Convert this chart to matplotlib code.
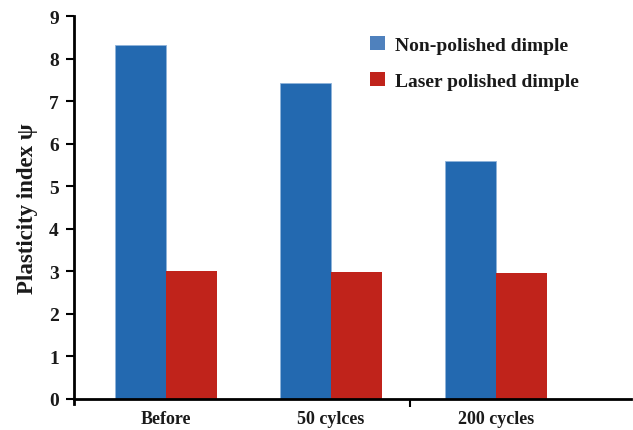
#!/usr/bin/env python3
import numpy as np
import matplotlib

matplotlib.use("Agg")
import matplotlib.pyplot as plt
from matplotlib.patches import Patch

# values
stages = ["Before", "50 cylces", "200 cycles"]
non_polished = [8.33, 7.44, 5.59]
laser_polished = [3.0, 2.98, 2.96]

BLUE = "#2369b0"
RED = "#c0231b"
LEG_BLUE = "#4f81bd"

plt.rcParams["font.family"] = ["Liberation Serif", "DejaVu Serif"]
plt.rcParams["font.weight"] = "bold"

fig = plt.figure(figsize=(6.33, 4.31), dpi=100)
ax = fig.add_axes([0.117, 0.072, 0.88, 0.888])

x = np.arange(len(stages))
w = 0.31
ax.bar(x - w / 2, non_polished, w, color=BLUE, edgecolor="#8fb3da", linewidth=0.6)
ax.bar(x + w / 2, laser_polished, w, color=RED, linewidth=0)

ax.set_xlim(-0.56, 2.82)
ax.set_ylim(0, 9)
ax.set_yticks(range(10))
ax.set_xticks([1.48])
ax.set_xticklabels([""])
for xi, name in zip(x, stages):
    ax.text(xi, -0.25, name, ha="center", va="top", fontsize=13,
            fontweight="bold", color="#1a1a1a", transform=ax.transData,
            clip_on=False)

for s in ["top", "right"]:
    ax.spines[s].set_visible(False)
for s in ["left", "bottom"]:
    ax.spines[s].set_linewidth(2)
    ax.spines[s].set_color("black")
ax.spines["left"].set_bounds(-0.12, 9)
ax.tick_params(axis="y", direction="out", length=6, width=1.5, labelsize=14,
               pad=5)
ax.tick_params(axis="x", direction="out", length=6, width=1.5)
for t in ax.get_yticklabels():
    t.set_fontweight("bold")
    t.set_color("#1a1a1a")

ax.set_ylabel("Plasticity index \u03c8", fontsize=16.5, fontweight="bold",
              color="#1a1a1a", labelpad=8)

handles = [Patch(facecolor=LEG_BLUE, edgecolor="none"),
           Patch(facecolor=RED, edgecolor="none")]
leg = ax.legend(handles, ["Non-polished dimple", "Laser polished dimple"],
                loc="upper left", bbox_to_anchor=(0.5, 0.995), frameon=False,
                handlelength=0.75, handleheight=0.75, handletextpad=0.55,
                labelspacing=0.95, prop={"weight": "bold", "size": 14})
for t in leg.get_texts():
    t.set_color("#1a1a1a")

fig.savefig("out.png", dpi=100)
